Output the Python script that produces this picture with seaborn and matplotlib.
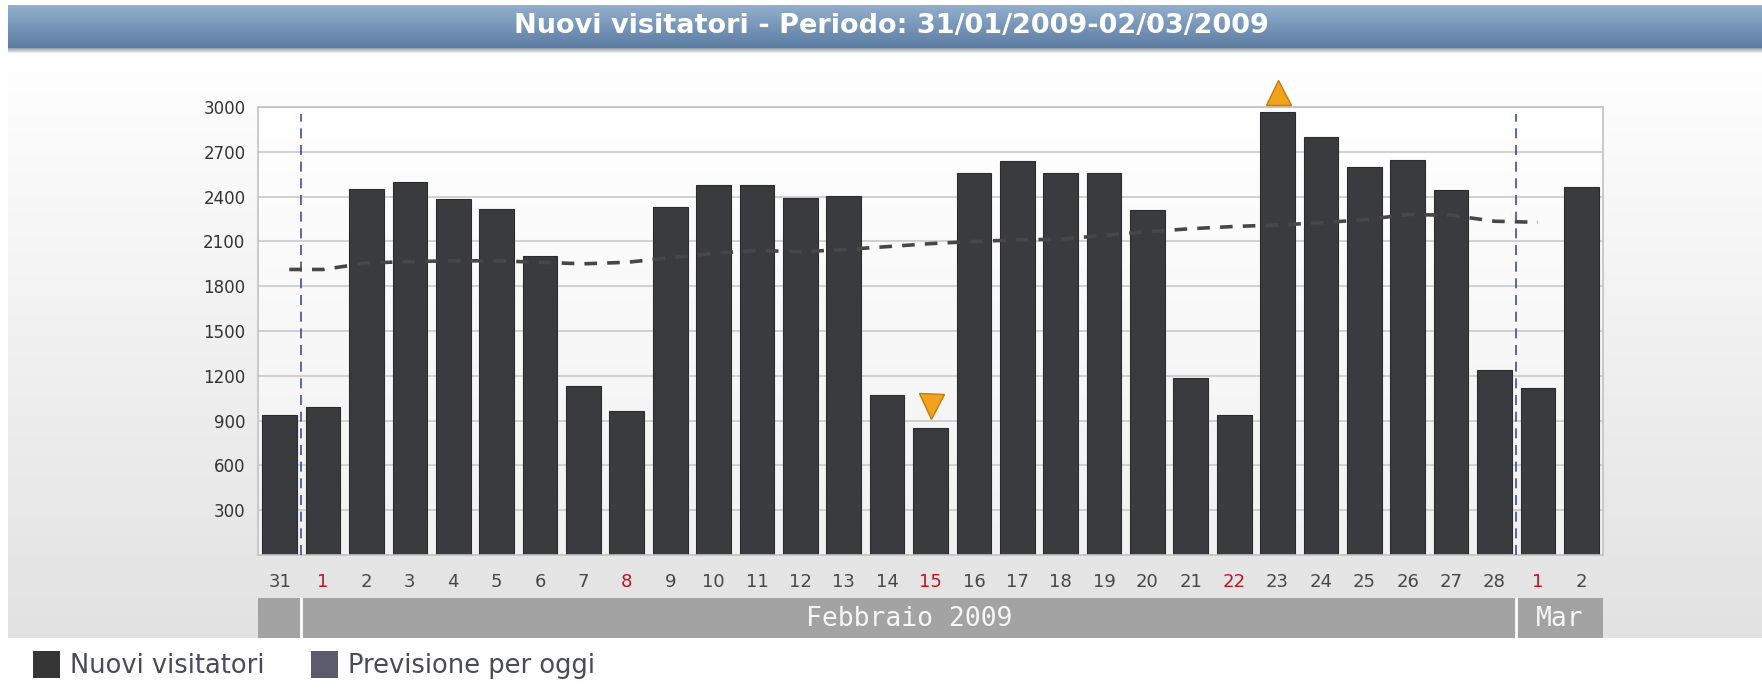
import numpy as np
import pandas as pd
import matplotlib
matplotlib.use('Agg')
import matplotlib.pyplot as plt
import matplotlib.transforms as mtransforms
from matplotlib.colors import LinearSegmentedColormap
from matplotlib.patches import Patch
import seaborn as sns

# data
title = "Nuovi visitatori - Periodo: 31/01/2009-02/03/2009"
period_start = "2009-01-31"
day_labels = ["31", "1", "2", "3", "4", "5", "6", "7", "8", "9", "10", "11", "12", "13", "14",
              "15", "16", "17", "18", "19", "20", "21", "22", "23", "24", "25", "26", "27", "28",
              "1", "2"]
visitors = [937, 989, 2449, 2500, 2384, 2317, 2004, 1135, 962, 2332, 2475, 2475, 2392, 2407, 1070,
            852, 2558, 2640, 2558, 2558, 2310, 1185, 938, 2966, 2797, 2597, 2645, 2447, 1236,
            1118, 2465]
# forecast trend, Feb 1 .. Mar 1
trend_values = [1912, 1955, 1965, 1970, 1970, 1960, 1950, 1960, 1990, 2020, 2040, 2030, 2045, 2065,
                2085, 2100, 2110, 2115, 2140, 2165, 2185, 2200, 2210, 2225, 2245, 2280, 2275, 2235,
                2228]
month_labels = ["", "Febbraio 2009", "Mar"]
month_spans = [1, 28, 2]
y_ticks = [300, 600, 900, 1200, 1500, 1800, 2100, 2400, 2700, 3000]
legend_labels = ["Nuovi visitatori", "Previsione per oggi"]

W, H = 1762, 696
BAR = "#3a3b3e"
GRID = "#c9c9c9"
RED = "#c0141e"
ORANGE = "#f2a31c"

dates = pd.date_range(period_start, periods=len(visitors))
df = pd.DataFrame({"pos": np.arange(len(visitors)), "visitors": visitors})
n = len(visitors)


def fx(px):
    return px / W


def fy(px):
    return 1 - px / H


def gradient(ax, top, bottom, **kw):
    cmap = LinearSegmentedColormap.from_list("g", [top, bottom])
    ax.imshow(np.linspace(0, 1, 256)[:, None], cmap=cmap, aspect="auto",
              extent=(0, 1, 0, 1), **kw)


fig = plt.figure(figsize=(W / 100, H / 100), dpi=100, facecolor="white")

# background panel
bg_ax = fig.add_axes([fx(8), fy(638), 1 - fx(8), (638 - 52) / H])
gradient(bg_ax, "#ffffff", "#e2e2e2")
bg_ax.set_axis_off()

# title bar + shadow
shadow_ax = fig.add_axes([fx(8), fy(53), 1 - fx(8), 5 / H])
gradient(shadow_ax, "#8f9aa6", "#f4f4f4")
shadow_ax.set_axis_off()
title_ax = fig.add_axes([fx(8), fy(48), 1 - fx(8), 43 / H])
gradient(title_ax, "#93afcd", "#5b7ca2")
title_ax.set_axis_off()
fig.text(fx(891), fy(26), title, ha="center", va="center", color="white",
         fontsize=19.5, fontweight="bold", family="DejaVu Sans")

# main plot
ax = fig.add_axes([fx(258), fy(555), (1603 - 258) / W, (555 - 107) / H])
gradient(ax, "#ffffff", "#f1f1f1", transform=ax.transAxes, zorder=0)
sns.barplot(data=df, x="pos", y="visitors", color=BAR, width=0.8, saturation=1,
            edgecolor="#2c2c2e", linewidth=0.8, ax=ax, zorder=2)
ax.set_xlim(-0.5, n - 0.5)
ax.set_ylim(0, 3000)
ax.set_yticks(y_ticks)
ax.set_yticklabels([str(v) for v in y_ticks], fontsize=12, color="#333333")
ax.set_xticks(df["pos"])
ax.set_xticklabels(day_labels, fontsize=13, color="#474747")
for lbl, d in zip(ax.get_xticklabels(), dates):
    if d.dayofweek == 6:
        lbl.set_color(RED)
ax.tick_params(axis="both", length=0)
ax.tick_params(axis="x", pad=13)
ax.tick_params(axis="y", pad=9)
ax.set_xlabel("")
ax.set_ylabel("")
ax.yaxis.grid(True, color=GRID, linewidth=1.2, zorder=1)
ax.set_axisbelow(True)
for s in ax.spines.values():
    s.set_color("#c2c2c2")
    s.set_linewidth(1.2)

# month boundaries
bounds = np.cumsum(month_spans) - 0.5
for b in bounds[:-1]:
    ax.axvline(b, ymin=0, ymax=0.985, color="#3f4d9a", linestyle=(0, (6, 4)),
               linewidth=1.2, zorder=3)

# forecast trend (dashed)
trend_x = np.arange(1, 1 + len(trend_values))
ax.plot(np.r_[trend_x[0] - 0.78, trend_x], np.r_[trend_values[0], trend_values],
        color="#474747", linestyle=(0, (3.5, 2.8)), linewidth=2.6, zorder=4)

# max / min markers
imax, imin = int(np.argmax(visitors)), int(np.argmin(visitors))
up = mtransforms.offset_copy(ax.transData, fig=fig, y=20, units="dots")
down = mtransforms.offset_copy(ax.transData, fig=fig, y=22, units="dots")
ax.plot(imax, visitors[imax], marker="^", markersize=18, color=ORANGE,
        markeredgecolor="#c27a10", markeredgewidth=1, transform=up, clip_on=False, zorder=5)
ax.plot(imin, visitors[imin], marker="v", markersize=18, color=ORANGE,
        markeredgecolor="#c27a10", markeredgewidth=1, transform=down, clip_on=False, zorder=5)

# month band
band_ax = fig.add_axes([fx(258), fy(638), (1603 - 258) / W, 40 / H])
band_ax.set_xlim(-0.5, n - 0.5)
band_ax.set_ylim(0, 1)
band_ax.set_axis_off()
start = -0.5
for label, span in zip(month_labels, month_spans):
    end = start + span
    band_ax.axvspan(start, end, color="#a3a3a3", linewidth=0)
    band_ax.text((start + end) / 2, 0.48, label, ha="center", va="center",
                 color="#f6f6f6", fontsize=19, family="DejaVu Sans Mono")
    start = end
for b in bounds[:-1]:
    band_ax.axvline(b, color="white", linewidth=2)

# legend
handles = [Patch(facecolor="#363636", label=legend_labels[0]),
           Patch(facecolor="#5b5b6d", label=legend_labels[1])]
fig.legend(handles=handles, loc="upper left", bbox_to_anchor=(fx(33), fy(651)), ncol=2,
           frameon=False, fontsize=18.5, handlelength=1.05, handleheight=1.25, handletextpad=0.4,
           columnspacing=1.8, borderpad=0, borderaxespad=0, labelcolor="#4a4a5a")

fig.savefig("out.png", dpi=100)
plt.close(fig)
